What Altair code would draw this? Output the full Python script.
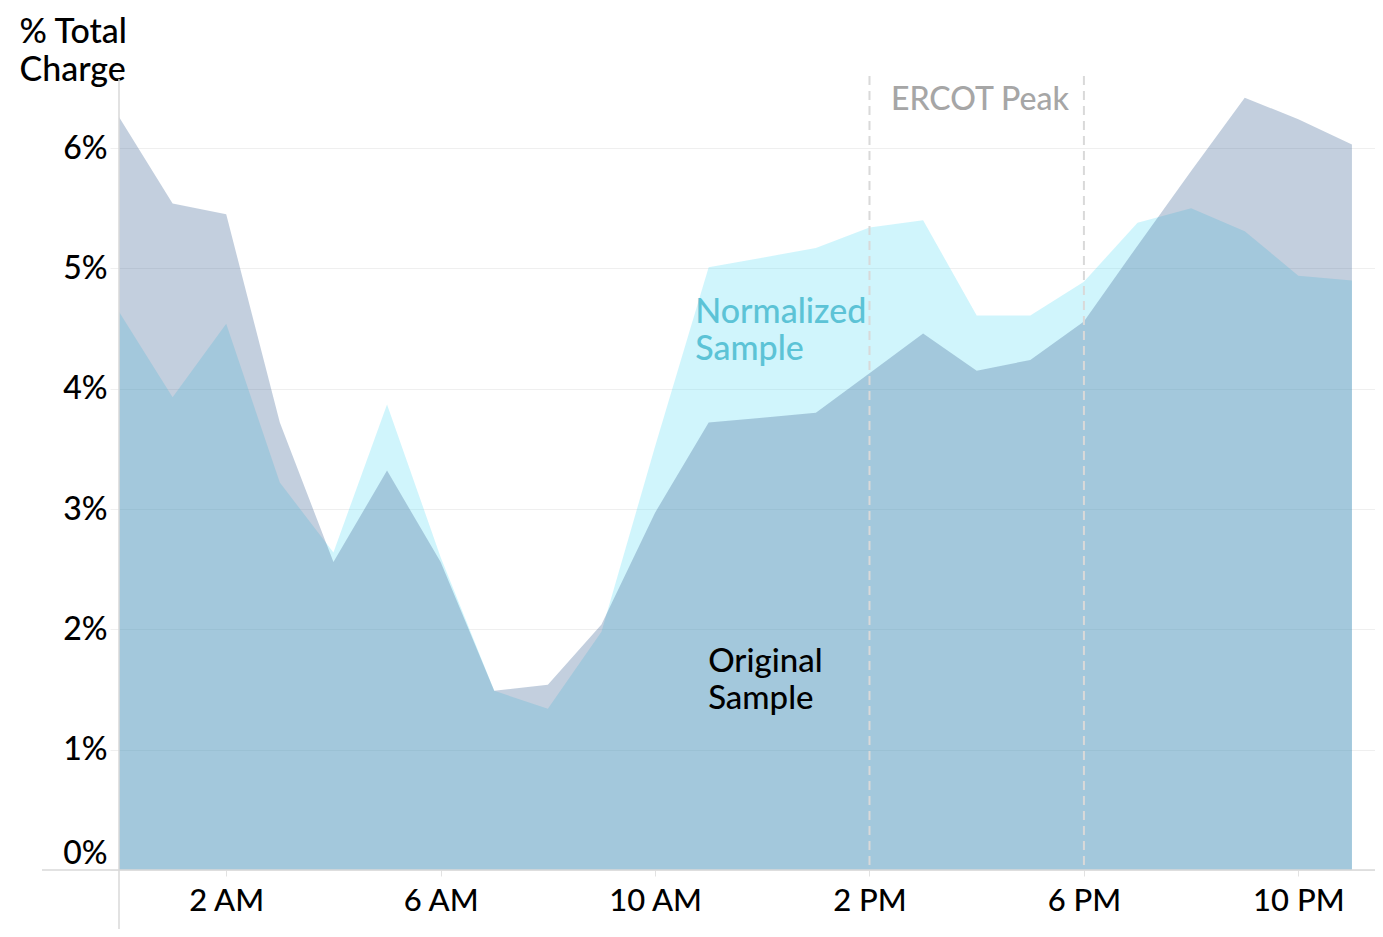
import altair as alt
import pandas as pd

# ---- data ----
hours = list(range(24))
original = [6.26, 5.54, 5.45, 3.72, 2.56, 3.32, 2.56, 1.49, 1.54, 2.04, 2.97, 3.72,
            3.76, 3.80, 4.13, 4.46, 4.15, 4.24, 4.56, 5.19, 5.81, 6.42, 6.24, 6.03]
normalized = [4.64, 3.93, 4.54, 3.22, 2.64, 3.87, 2.60, 1.49, 1.34, 1.98, 3.52, 5.01,
              5.09, 5.17, 5.34, 5.40, 4.61, 4.61, 4.89, 5.38, 5.50, 5.31, 4.94, 4.90]
tick_hours = [2, 6, 10, 14, 18, 22]
tick_labels = ["2 AM", "6 AM", "10 AM", "2 PM", "6 PM", "10 PM"]
y_ticks = [0, 1, 2, 3, 4, 5, 6]
peak_hours = [14, 18]

ann_text = [["Normalized", "Sample"], ["Original", "Sample"], ["ERCOT Peak"]]
ann_hour = [10.75, 10.99, 14.4]
ann_value = [4.55, 1.645, 6.32]
ann_color = ["#5cc3d6", "#000000", "#a6a6a6"]
ann_size = [34, 33, 32]

FONT = "Lato"

df = pd.DataFrame({
    "hour": hours * 2,
    "value": original + normalized,
    "series": ["Original"] * 24 + ["Normalized"] * 24,
})

x_expr = "[" + ",".join("'" + t + "'" for t in tick_labels) + "][indexof([" + \
    ",".join(str(h) for h in tick_hours) + "], datum.value)]"

X = alt.X("hour:Q",
          scale=alt.Scale(domain=[0, 23.43], nice=False, zero=False),
          axis=alt.Axis(values=tick_hours, labelExpr=x_expr, grid=False, domain=False,
                        tickSize=6, tickColor="#e2e2e2", labelPadding=10,
                        labelFontSize=31, labelColor="#000000", labelFont=FONT,
                        labelFontWeight=500, title=None))
Y = alt.Y("value:Q",
          scale=alt.Scale(domain=[0, 6.6], nice=False),
          axis=alt.Axis(values=y_ticks, labelExpr="datum.value + '%'", grid=True,
                        gridColor="#efefef", tickSize=9, tickColor="#efefef",
                        labelPadding=3, labelFlush=True, domain=False,
                        labelFontSize=32, labelColor="#000000", labelFont=FONT,
                        labelFontWeight=500,
                        title=["% Total", "Charge"], titleAngle=0, titleAlign="left",
                        titleBaseline="alphabetic", titleX=-100, titleY=-34,
                        titleFontSize=34, titleFontWeight=500, titleLineHeight=38,
                        titleColor="#000000", titleFont=FONT))

base = alt.Chart(df)

norm_area = base.transform_filter(alt.datum.series == "Normalized").mark_area(
    color="#62def5", opacity=0.3, line=False
).encode(x=X, y=Y)

orig_area = base.transform_filter(alt.datum.series == "Original").mark_area(
    color="#446998", opacity=0.32
).encode(x=X, y=Y)

peak_df = pd.DataFrame({"hour": peak_hours})
peak_rules = alt.Chart(peak_df).mark_rule(
    color="#d9d9d9", strokeWidth=2, strokeDash=[9, 6]
).encode(x=X)

ann_df = pd.DataFrame({"hour": ann_hour, "value": ann_value,
                       "text": ann_text, "color": ann_color, "size": ann_size})
ann = alt.Chart(ann_df).mark_text(
    align="left", baseline="alphabetic", font=FONT, fontWeight=500, lineHeight=37
).encode(x=X, y=Y, text="text",
         color=alt.Color("color:N", scale=None),
         size=alt.Size("size:Q", scale=None))

# axis lines (decoration)
y_axis_line = alt.Chart(alt.Data(values=[{}])).mark_rule(
    color="#d9d9d9", strokeWidth=1.5
).encode(x=alt.value(0), y=alt.value(3), y2=alt.value(853))
x_axis_line = alt.Chart(alt.Data(values=[{}])).mark_rule(
    color="#d9d9d9", strokeWidth=1.5
).encode(x=alt.value(-77), x2=alt.value(1256), y=alt.value(794))

chart = alt.layer(
    norm_area, orig_area, peak_rules, y_axis_line, x_axis_line, ann
).properties(
    width=1256, height=794,
    padding={"left": 111, "top": 68, "right": 0, "bottom": 59},
    autosize=alt.AutoSizeParams(type="none"),
).configure_view(stroke=None)

chart.save("out.html", embed_options={"renderer": "svg", "actions": False})
